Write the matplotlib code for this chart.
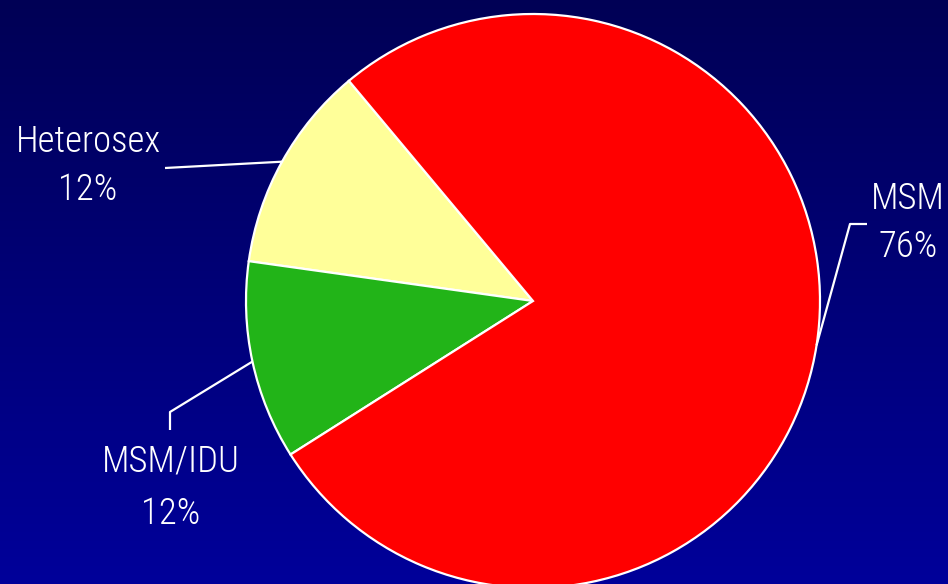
import numpy as np
import matplotlib
matplotlib.use("Agg")
import matplotlib.pyplot as plt
from matplotlib.colors import LinearSegmentedColormap

# Data (shares, labels as printed)
categories = ["Heterosex", "MSM/IDU", "MSM"]
shares = [11.7, 11.2, 77.1]
pct_labels = ["12%", "12%", "76%"]
colors = ["#FFFF99", "#22B418", "#FF0000"]

W, H = 948, 584
fig = plt.figure(figsize=(W / 100, H / 100), dpi=100)
ax = fig.add_axes([0, 0, 1, 1])
ax.set_xlim(0, W)
ax.set_ylim(0, H)
ax.set_aspect("equal")
ax.axis("off")

# gradient background
cmap = LinearSegmentedColormap.from_list("bg", ["#00009A", "#000055"])
grad = np.linspace(0, 1, 256).reshape(-1, 1)
ax.imshow(grad, extent=[0, W, 0, H], origin="lower", cmap=cmap, aspect="auto", zorder=0)

cx, cy, r = 533, H - 301, 287
start = 129.9
wedges, _ = ax.pie(shares, colors=colors, startangle=start, counterclock=True,
                   center=(cx, cy), radius=r, frame=True,
                   wedgeprops=dict(edgecolor="white", linewidth=1.6))
ax.set_xlim(0, W)
ax.set_ylim(0, H)
ax.axis("off")

# label layout: elbow points (px, from text toward wedge), text center x, baselines
layout = {
    "Heterosex": dict(path=[(165, 168)], tx=88, base=[152, 200]),
    "MSM/IDU": dict(path=[(170, 430), (170, 412)], tx=171, base=[472, 524]),
    "MSM": dict(path=[(867, 224), (850, 224)], tx=908, base=[209, 257]),
}

font = dict(family=["Roboto Condensed", "Liberation Sans", "DejaVu Sans"],
            color="white", fontsize=26.5, fontweight="light")
for w, cat, pct in zip(wedges, categories, pct_labels):
    ang = np.deg2rad((w.theta1 + w.theta2) / 2)
    ax_pt = (cx + r * np.cos(ang), cy + r * np.sin(ang))
    L = layout[cat]
    pts = [(x, H - y) for x, y in L["path"]] + [ax_pt]
    xs, ys = zip(*pts)
    ax.plot(xs, ys, color="white", lw=1.6, solid_capstyle="butt", zorder=5)
    ax.text(L["tx"], H - L["base"][0], cat, ha="center", va="baseline", **font)
    ax.text(L["tx"], H - L["base"][1], pct, ha="center", va="baseline", **font)

fig.savefig("out.png", dpi=100)
